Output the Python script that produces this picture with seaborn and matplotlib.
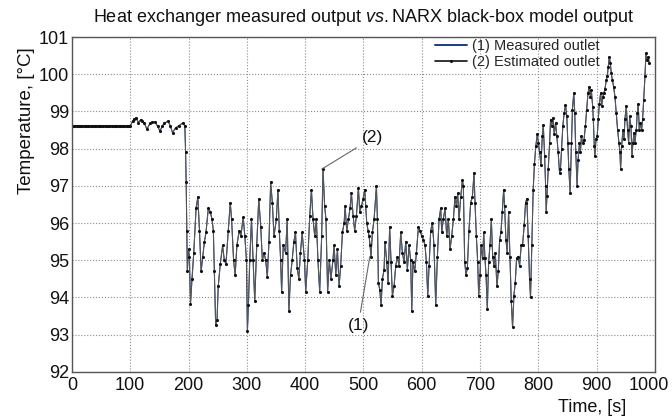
import matplotlib
matplotlib.use("Agg")
import matplotlib.pyplot as plt
import matplotlib.transforms as mtransforms
import seaborn as sns
import pandas as pd

# ---- data (time [s], temperature [degC]) ----
time_flat = [0, 2, 4, 6, 8, 10, 12, 14, 16, 18, 20, 22, 24, 26, 28, 30, 32, 34, 36,
             38, 40, 42, 44, 46, 48, 50, 52, 54, 56, 58, 60, 62, 64, 66, 68, 70, 72,
             74, 76, 78, 80, 82, 84, 86, 88, 90, 92, 94, 96, 98]
temp_flat = [98.62, 98.62, 98.62, 98.62, 98.62, 98.62, 98.62, 98.62, 98.62, 98.62,
             98.62, 98.62, 98.62, 98.62, 98.62, 98.62, 98.62, 98.62, 98.62, 98.62,
             98.62, 98.62, 98.62, 98.62, 98.62, 98.62, 98.62, 98.62, 98.62, 98.62,
             98.62, 98.62, 98.62, 98.62, 98.62, 98.62, 98.62, 98.62, 98.62, 98.62,
             98.62, 98.62, 98.62, 98.62, 98.62, 98.62, 98.62, 98.62, 98.62, 98.62]

time_zig = [100, 104, 107, 110, 114, 118, 121, 124, 128.6, 134, 138, 143, 147, 151,
            155, 158, 165, 169, 172.6, 178, 184, 190, 193.7]
temp_zig = [98.6, 98.74, 98.8, 98.83, 98.7, 98.78, 98.74, 98.7, 98.52, 98.68, 98.72,
            98.71, 98.6, 98.47, 98.6, 98.68, 98.74, 98.6, 98.43, 98.56, 98.62, 98.69,
            98.62]

time_a = [195, 196, 197, 198, 200, 201.5, 203.4, 206, 209, 213,
          216, 218.8, 221.6, 224.4, 227.3, 230, 234, 237.5, 240.3, 242.6,
          244.3, 246.6, 248.9, 251, 254.5, 258.5, 261.4, 264.2, 268.2, 271.6,
          273.9, 277.3, 280, 283, 287, 289.8, 293.8, 296.6, 299.4, 301,
          302.8, 305, 308, 310.8, 313.6, 317, 320.5, 323.9, 326.7, 329.5,
          332.4, 335.2, 338, 340.9, 343.8, 346.6, 350.6, 353.4, 355.7, 358,
          359.7, 362.5, 366.5, 369.3, 372.2, 375, 377.8, 380.7, 383.5, 386.4,
          389.2, 392, 394.9, 398.9, 401, 404.5, 408, 410.8, 413.6, 416.5,
          419.3, 422, 425, 428.4, 430.7, 433.5, 435.8, 438.6, 441.5, 444.3,
          447.7]
temp_a = [97.9, 97.1, 95.8, 94.7, 95.3, 95.1, 93.83, 94.5, 95.2, 96.4,
          96.7, 95.8, 94.7, 95.1, 95.5, 95.75, 96.4, 96.3, 96.1, 95.8,
          94.7, 93.25, 93.4, 94.3, 94.9, 95.4, 95.0, 94.9, 95.8, 96.55,
          96.1, 95.0, 94.6, 95.4, 95.8, 95.65, 96.15, 95.65, 95.0, 93.1,
          93.8, 95.0, 96.1, 95.0, 93.9, 95.4, 96.65, 95.9, 95.0, 95.2,
          95.0, 94.55, 95.5, 97.1, 96.55, 95.65, 96.1, 96.9, 95.8, 95.0,
          94.15, 95.4, 95.2, 96.1, 93.65, 94.6, 95.0, 95.5, 95.75, 94.8,
          94.5, 95.2, 95.75, 95.0, 94.15, 95.0, 96.2, 96.9, 96.1, 95.65,
          96.1, 95.0, 94.15, 95.65, 97.45, 96.45, 96.1, 94.15, 95.0, 94.5,
          95.0]

time_b = [449.7, 452.6, 455.4, 458.3, 461, 464, 466.9, 468.6, 471.4, 474.3,
          477, 479.4, 482.3, 485, 488, 491.4, 493.7, 496.6, 499.4, 502.3,
          504, 505.7, 508, 509.7, 511.4, 513, 515.4, 518.3, 522.3, 524,
          525.7, 528, 530.3, 532.6, 535.4, 537, 540, 542.3, 545, 547.4,
          549.7, 552.6, 555.4, 558.3, 561, 564, 566.9, 569.7, 572.6, 575.4,
          578.3, 581, 582.9, 585, 588, 590.9, 594.3, 597, 600, 602.9,
          605.7, 608, 610.3, 612.6, 615.4, 618.3, 621, 624, 626.9, 629.7,
          632.6, 634.3, 637, 640, 642.9, 645.7, 648.6, 651.4, 654.3, 657,
          659.4, 661.7, 664, 666.9, 669.7, 671.4, 673.7, 676, 678.3, 681,
          684, 686.9, 689.7, 691.4, 693.7, 696, 697.7]
temp_b = [95.4, 94.6, 95.3, 94.3, 94.85, 95.75, 96.0, 96.45, 95.8, 96.1,
          96.4, 96.8, 96.2, 95.8, 96.2, 96.95, 96.3, 96.45, 96.65, 96.9,
          96.45, 96.0, 95.8, 95.65, 95.4, 95.1, 95.75, 96.1, 97.0, 96.1,
          94.4, 94.2, 93.8, 94.5, 94.75, 95.5, 94.95, 94.4, 95.9, 94.95,
          94.05, 94.3, 94.85, 95.1, 94.85, 95.75, 95.2, 94.95, 95.5, 94.75,
          95.4, 95.0, 93.65, 94.95, 94.7, 95.2, 95.9, 95.8, 95.65, 95.55,
          95.4, 94.95, 94.05, 94.85, 95.8, 96.0, 95.4, 93.8, 95.1, 96.1,
          96.4, 95.75, 96.1, 96.4, 95.65, 96.1, 95.3, 95.65, 96.1, 96.7,
          96.45, 96.8, 96.1, 96.7, 97.15, 97.0, 94.95, 94.6, 94.8, 95.8,
          96.55, 96.7, 97.35, 96.55, 95.65, 94.95, 94.05]

time_c = [700, 701.7, 704.6, 706.3, 708.5, 710.3, 712.5, 714.8, 717, 719.4,
          721.7, 724, 726.2, 729, 731.3, 733.6, 735.9, 738.2, 740.5, 742.2,
          744.4, 746.7, 749, 751.3, 753.6, 755.8, 758.1, 760.4, 762.7, 765.5,
          767.8, 770.7, 772.9, 775.8, 778.1, 780.3, 782.6, 784.9, 786.6, 788.9,
          791.2, 793.4, 795.7]
temp_c = [94.6, 95.4, 95.05, 95.75, 95.05, 94.6, 93.7, 94.95, 95.4, 96.1,
          95.1, 94.85, 95.2, 94.3, 94.7, 95.55, 95.75, 96.3, 96.9, 96.45,
          95.55, 95.2, 96.3, 95.1, 93.9, 93.2, 94.05, 94.4, 95.05, 95.1,
          94.85, 95.4, 95.4, 95.95, 96.55, 96.65, 95.65, 94.5, 94.0, 95.4,
          96.9, 97.6, 98.07]

time_d = [798.3, 800, 802.3, 804.5, 806.8, 808.5, 810.8, 812.5, 813.5, 814.8,
          817, 819.3, 821, 822.7, 825, 827.3, 829.5, 831.8, 834, 836.4,
          838, 839.8, 842, 844.3, 846.6, 848.9, 850.6, 852.3, 854.5, 856.8,
          858.5, 860.8, 862.5, 864.2, 866.5, 868.2, 870.5, 872.2, 873.9, 876,
          878.4, 880.7, 882.9, 885.2, 887.5, 889.2, 890.9, 893.2]
temp_d = [98.4, 98.15, 97.9, 97.55, 98.33, 98.64, 97.8, 97.0, 96.3, 96.73,
          97.45, 98.15, 98.78, 98.6, 98.82, 98.4, 98.69, 98.33, 97.9, 97.35,
          97.45, 97.98, 98.6, 98.96, 99.18, 98.87, 98.15, 97.45, 96.82, 98.15,
          99.05, 99.5, 98.96, 97.9, 97.0, 97.7, 98.15, 97.9, 98.33, 98.15,
          98.24, 98.6, 99.05, 99.5, 99.67, 99.4, 99.58, 99.13]

time_e = [894.3, 896, 897, 898.9, 901, 902.9, 904.6, 906.9, 908.6, 910.9,
          912.6, 914.3, 916.6, 918.3, 920, 921.7, 923.4, 925.1, 926.9, 929.1,
          931.4, 933.7, 936, 938.3, 940, 941.1, 942.9, 945.1, 946.9, 948.6,
          950.9, 953.1, 954.9, 956.6, 958.9, 960.6, 962.3, 964, 965.7, 968,
          969.7, 971.4, 973.1, 974.9, 977.1, 978.9, 980.6, 982.9, 984.6, 986.3,
          988.6, 990.3]
temp_e = [98.8, 98.07, 97.8, 98.25, 98.35, 98.8, 99.2, 99.5, 99.15, 99.4,
          99.5, 99.6, 99.85, 99.95, 100.2, 100.47, 100.3, 100.03, 99.85, 99.67,
          99.4, 98.96, 98.5, 98.16, 97.9, 97.45, 98.07, 98.5, 98.25, 98.8,
          99.15, 98.5, 98.16, 98.87, 98.6, 97.8, 98.16, 98.43, 98.16, 98.5,
          98.96, 99.2, 98.5, 98.7, 98.5, 98.8, 99.3, 99.94, 100.56, 100.38,
          100.47, 100.3]

x_ticks = [0, 100, 200, 300, 400, 500, 600, 700, 800, 900, 1000]
y_ticks = [92, 93, 94, 95, 96, 97, 98, 99, 100, 101]
labels = ["(1) Measured outlet", "(2) Estimated outlet"]

time_s = time_flat + time_zig + time_a + time_b + time_c + time_d + time_e
measured_c = temp_flat + temp_zig + temp_a + temp_b + temp_c + temp_d + temp_e
# In the reference the estimated curve lies on top of the measured one.
estimated_c = list(measured_c)

df = pd.DataFrame({"time": time_s, "measured": measured_c, "estimated": estimated_c})

sns.set_theme(style="white")
plt.rcParams["font.family"] = ["Liberation Sans", "DejaVu Sans"]
plt.rcParams["mathtext.fontset"] = "custom"
plt.rcParams["mathtext.rm"] = "Liberation Sans"
plt.rcParams["mathtext.it"] = "Liberation Sans:italic"

fig = plt.figure(figsize=(6.72, 4.16), dpi=100)
ax = fig.add_axes([0.107, 0.106, 0.8676, 0.805])

sns.lineplot(data=df, x="time", y="measured", ax=ax, color="#1a3a8a", lw=0.7,
             sort=False, estimator=None, label=labels[0])
sns.lineplot(data=df, x="time", y="estimated", ax=ax, color="#555555", lw=0.8,
             marker=".", markersize=4.5, markeredgewidth=0, markerfacecolor="#111111",
             sort=False, estimator=None, label=labels[1])

ax.set_xlim(0, 1000)
ax.set_ylim(92, 101)
ax.set_xticks(x_ticks)
ax.set_yticks(y_ticks)
ax.grid(True, linestyle=":", color="#8c8c8c", linewidth=0.8)
ax.tick_params(direction="in", length=4, width=0.8, color="#444444",
               labelsize=13, labelcolor="#111111")
ax.tick_params(axis="y", pad=2)
ax.tick_params(axis="x", pad=4)
for s in ax.spines.values():
    s.set_color("#555555")
    s.set_linewidth(1.0)

# the last x tick label sits slightly left of its tick in the reference
last = ax.get_xticklabels()[-1]
last.set_transform(last.get_transform() +
                   mtransforms.ScaledTranslation(-6 / 100, 0, fig.dpi_scale_trans))

ax.set_title(r"Heat exchanger measured output $\mathit{vs.}$NARX black-box model output",
             fontsize=13, pad=11, color="#111111")
ax.set_ylabel("Temperature, [°C]", fontsize=13.5, y=0.75, labelpad=3, color="#111111")
ax.set_xlabel("Time, [s]", fontsize=13, x=0.95, ha="right", labelpad=3, color="#111111")

ax.annotate("(2)", xy=(428.5, 97.45), xytext=(516, 98.29), fontsize=12.5,
            ha="center", va="center", color="#111111",
            arrowprops=dict(arrowstyle="-", color="#666666", lw=0.8, shrinkA=2, shrinkB=0))
ax.annotate("(1)", xy=(511, 95.1), xytext=(491, 93.24), fontsize=12.5,
            ha="center", va="center", color="#111111",
            arrowprops=dict(arrowstyle="-", color="#666666", lw=0.8, shrinkA=2, shrinkB=0))

leg = ax.legend(loc="upper right", bbox_to_anchor=(0.905, 0.995), frameon=False,
                fontsize=10.5, handlelength=2.2, handletextpad=0.3, labelspacing=0.15,
                borderpad=0, borderaxespad=0)
leg_lines = leg.get_lines()
leg_lines[0].set_linewidth(1.4)
leg_lines[1].set_linewidth(1.2)
leg_lines[1].set_color("#111111")

fig.savefig("out.png", dpi=100, facecolor="white")
